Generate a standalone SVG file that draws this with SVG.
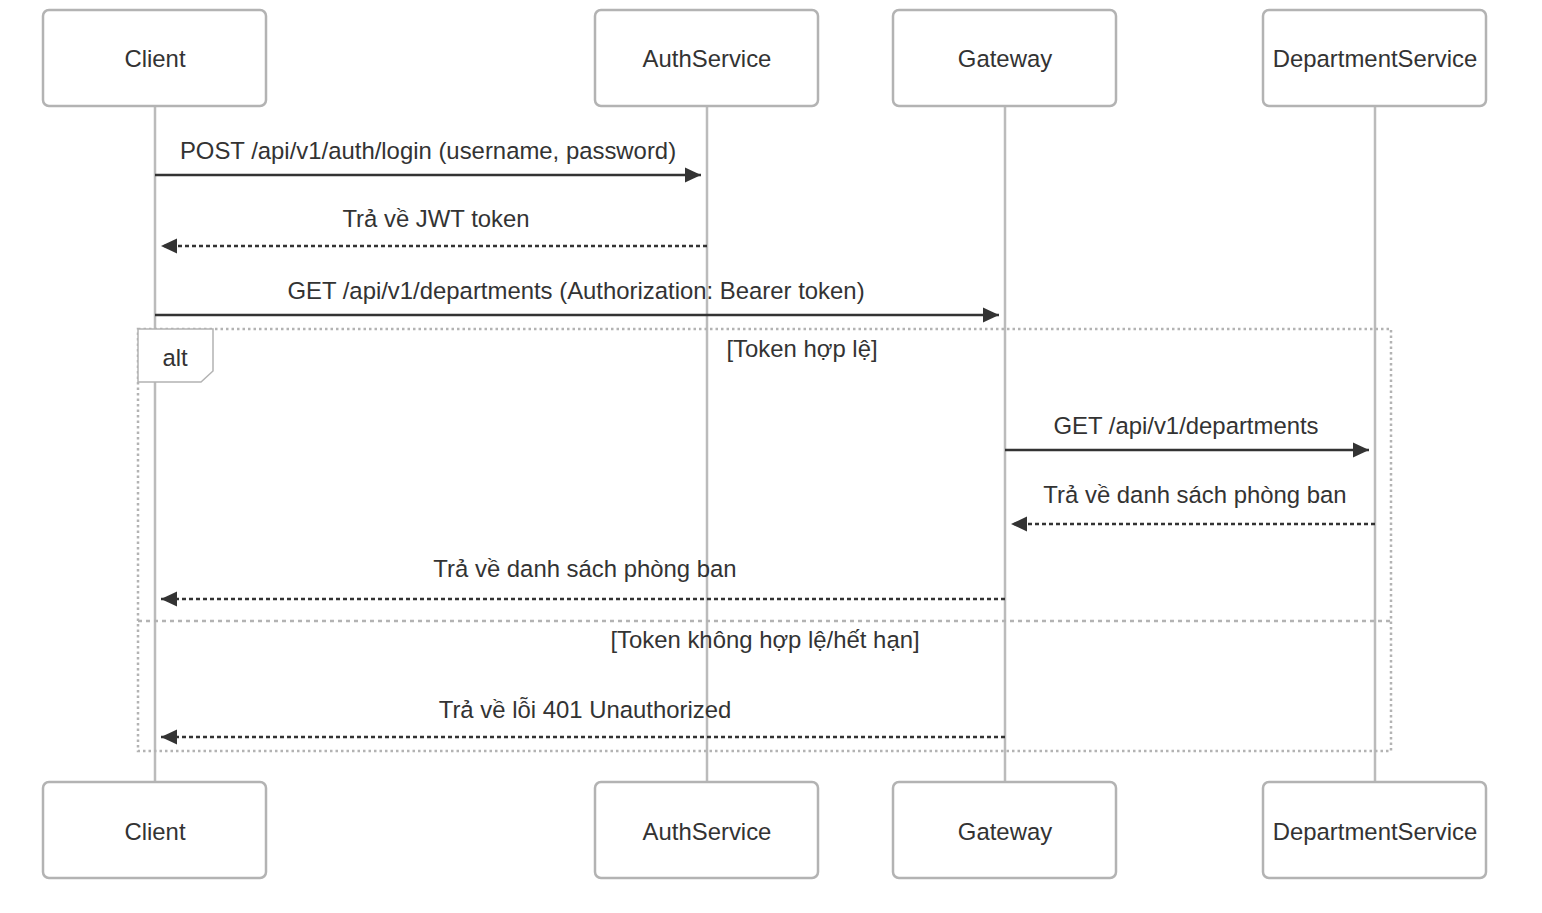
<svg xmlns="http://www.w3.org/2000/svg" width="1542" height="913" viewBox="0 0 1542 913">
<defs>
<style>
.actor rect{fill:#fff;stroke:#b3b3b3;stroke-width:2.5}
text{font-family:"Liberation Sans",Arial,sans-serif;font-size:23.9px;fill:#333;text-anchor:middle}
.life{stroke:#bbb;stroke-width:2.5}
.msg{stroke:#333;stroke-width:2.7;fill:none}
.dot{stroke-dasharray:4,3}
.frame{fill:none;stroke:#b3b3b3;stroke-width:2.5;stroke-dasharray:2.5,3}
.sep{fill:none;stroke:#b3b3b3;stroke-width:2.5;stroke-dasharray:4,4}
</style>
<marker id="ah" markerUnits="userSpaceOnUse" markerWidth="18" markerHeight="18" viewBox="0 0 18 18" refX="17" refY="9" orient="auto">
<path d="M1,1.5 L17,9 L1,16.5 z" fill="#333"/>
</marker>
</defs>
<rect width="1542" height="913" fill="#fff"/>
<g id="lifelines">
<line class="life" x1="155" y1="106" x2="155" y2="782"/>
<line class="life" x1="707" y1="106" x2="707" y2="782"/>
<line class="life" x1="1005" y1="106" x2="1005" y2="782"/>
<line class="life" x1="1375" y1="106" x2="1375" y2="782"/>
</g>
<g id="actor-client-top" class="actor"><rect x="43" y="10" width="223" height="96" rx="6"/><text x="155" y="67">Client</text></g>
<g id="actor-auth-top" class="actor"><rect x="595" y="10" width="223" height="96" rx="6"/><text x="707" y="67">AuthService</text></g>
<g id="actor-gateway-top" class="actor"><rect x="893" y="10" width="223" height="96" rx="6"/><text x="1005" y="67">Gateway</text></g>
<g id="actor-dept-top" class="actor"><rect x="1263" y="10" width="223" height="96" rx="6"/><text x="1375" y="67">DepartmentService</text></g>
<g id="actor-client-bottom" class="actor"><rect x="43" y="782" width="223" height="96" rx="6"/><text x="155" y="840">Client</text></g>
<g id="actor-auth-bottom" class="actor"><rect x="595" y="782" width="223" height="96" rx="6"/><text x="707" y="840">AuthService</text></g>
<g id="actor-gateway-bottom" class="actor"><rect x="893" y="782" width="223" height="96" rx="6"/><text x="1005" y="840">Gateway</text></g>
<g id="actor-dept-bottom" class="actor"><rect x="1263" y="782" width="223" height="96" rx="6"/><text x="1375" y="840">DepartmentService</text></g>
<g id="alt-frame">
<rect class="frame" x="138" y="329" width="1253" height="422"/>
<line class="sep" x1="138" y1="621" x2="1391" y2="621"/>
<polygon points="138,329 213,329 213,371 201,382 138,382" fill="#fff" stroke="#b3b3b3" stroke-width="1.5"/>
<text x="175" y="366">alt</text>
<text x="802" y="357">[Token hợp lệ]</text>
<text x="765" y="648">[Token không hợp lệ/hết hạn]</text>
</g>
<g id="connectors">
<line class="msg" x1="155" y1="175" x2="701" y2="175" marker-end="url(#ah)"/>
<text x="428" y="159">POST /api/v1/auth/login (username, password)</text>
<line class="msg dot" x1="707" y1="246" x2="161" y2="246" marker-end="url(#ah)"/>
<text x="436" y="227">Trả về JWT token</text>
<line class="msg" x1="155" y1="315" x2="999" y2="315" marker-end="url(#ah)"/>
<text x="576" y="299">GET /api/v1/departments (Authorization: Bearer token)</text>
<line class="msg" x1="1005" y1="450" x2="1369" y2="450" marker-end="url(#ah)"/>
<text x="1186" y="434">GET /api/v1/departments</text>
<line class="msg dot" x1="1375" y1="524" x2="1011" y2="524" marker-end="url(#ah)"/>
<text x="1195" y="503">Trả về danh sách phòng ban</text>
<line class="msg dot" x1="1005" y1="599" x2="161" y2="599" marker-end="url(#ah)"/>
<text x="585" y="577">Trả về danh sách phòng ban</text>
<line class="msg dot" x1="1005" y1="737" x2="161" y2="737" marker-end="url(#ah)"/>
<text x="585" y="718">Trả về lỗi 401 Unauthorized</text>
</g>
</svg>
